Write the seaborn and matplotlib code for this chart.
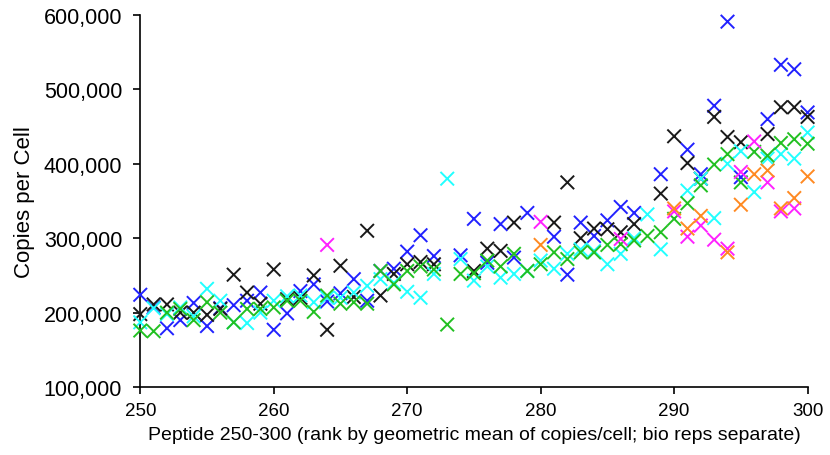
import numpy as np
import pandas as pd
import matplotlib
matplotlib.use("Agg")
import matplotlib.pyplot as plt
import matplotlib.ticker as mticker
import seaborn as sns

nan = np.nan

# peptide rank 250..300
rank = list(range(250, 301))

# copies per cell (thousands), one list per bio rep
blue = [224, 207, 179, 190, 213, 182, 206, 210, 216, 227,
        177, 199, 229, 238, 215, 226, 245, 216, 256, 259,
        282, 304, 276, nan, 277, 326, 267, 319, 274, 334,
        nan, 302, 251, 321, 303, 324, 342, 334, nan, 386,
        nan, 419, 386, 478, 591, 382, nan, 460, 533, 527,
        469]
black = [198, 211, 211, 200, 200, 197, 205, 251, 227, 212,
         258, 218, 220, 250, 177, 263, 221, 310, 223, 252,
         265, 268, 265, nan, nan, 256, 286, 283, 321, nan,
         nan, 321, 375, 300, 313, 312, 308, 319, nan, 360,
         437, 401, 380, 463, 436, 429, nan, 440, 476, 476,
         463]
cyan = [187, 206, 198, 207, 195, 232, 216, 187, 186, 200,
        216, 222, 223, 214, 220, 220, 227, 236, 245, 240,
        228, 220, 252, 380, 272, 243, 262, 247, 252, 256,
        270, 259, 279, 285, 283, 265, 279, 300, 332, 285,
        nan, 364, 380, 327, 400, 417, 362, 407, 413, 407,
        442]
green = [176, 175, 200, 205, 190, 214, 200, 187, 205, 205,
         207, 216, 216, 201, 223, 212, 214, 212, 256, 238,
         256, 262, 258, 184, 252, 253, 270, 262, 279, 256,
         265, 281, 272, 281, 281, 291, 292, 297, 303, 308,
         326, 347, 371, 399, 413, 375, 416, 411, 428, 433,
         427]
magenta = [nan] * 14 + [291] + [nan] * 15 + [322] + [nan] * 5 + [299] + [nan] * 3 + \
          [336, 302, 317, 298, 286, 389, 430, 375, 336, 340, nan]
orange = [nan] * 30 + [291] + [nan] * 9 + \
         [340, 313, 330, nan, 281, 345, 386, 391, 340, 354, 383]

reps = {"blue": blue, "black": black, "cyan": cyan,
        "green": green, "magenta": magenta, "orange": orange}
colors = {"blue": "#2222ff", "black": "#1a1a1a", "cyan": "#22ffff",
          "green": "#22c022", "magenta": "#ff22ff", "orange": "#ff8a22"}

frames = []
for name, vals in reps.items():
    frames.append(pd.DataFrame({"rank": rank,
                                "copies": np.array(vals, dtype=float) * 1000,
                                "rep": name}))
df = pd.concat(frames).dropna()

sns.set_style("white")
plt.rcParams["font.family"] = ["Liberation Sans", "DejaVu Sans"]
for key in ["text.color", "axes.labelcolor", "xtick.color", "ytick.color"]:
    plt.rcParams[key] = "black"

fig = plt.figure(figsize=(8.3, 4.56), dpi=100)
ax = fig.add_axes([0.169, 0.149, 0.804, 0.816])

sns.scatterplot(data=df, x="rank", y="copies", hue="rep", palette=colors,
                marker="x", s=95, linewidth=1.4, legend=False, ax=ax,
                clip_on=False, zorder=3)

ax.set_xlim(250, 300)
ax.set_ylim(100000, 600000)
ax.set_xticks(range(250, 301, 10))
ax.set_yticks(range(100000, 600001, 100000))
ax.yaxis.set_major_formatter(mticker.StrMethodFormatter("{x:,.0f}"))

for side in ["top", "right"]:
    ax.spines[side].set_visible(False)
for side in ["left", "bottom"]:
    ax.spines[side].set_color("black")
    ax.spines[side].set_linewidth(1.2)

ax.tick_params(axis="both", direction="out", length=5, width=1.2,
               color="black", left=True, bottom=True)
ax.tick_params(axis="y", labelsize=15.5, pad=8)
ax.tick_params(axis="x", labelsize=13.5, pad=6)

ax.set_xlabel("Peptide 250-300 (rank by geometric mean of copies/cell; bio reps separate)",
              fontsize=14, labelpad=5)
ax.set_ylabel("Copies per Cell", fontsize=16, labelpad=6)

fig.savefig("out.png", dpi=100)
